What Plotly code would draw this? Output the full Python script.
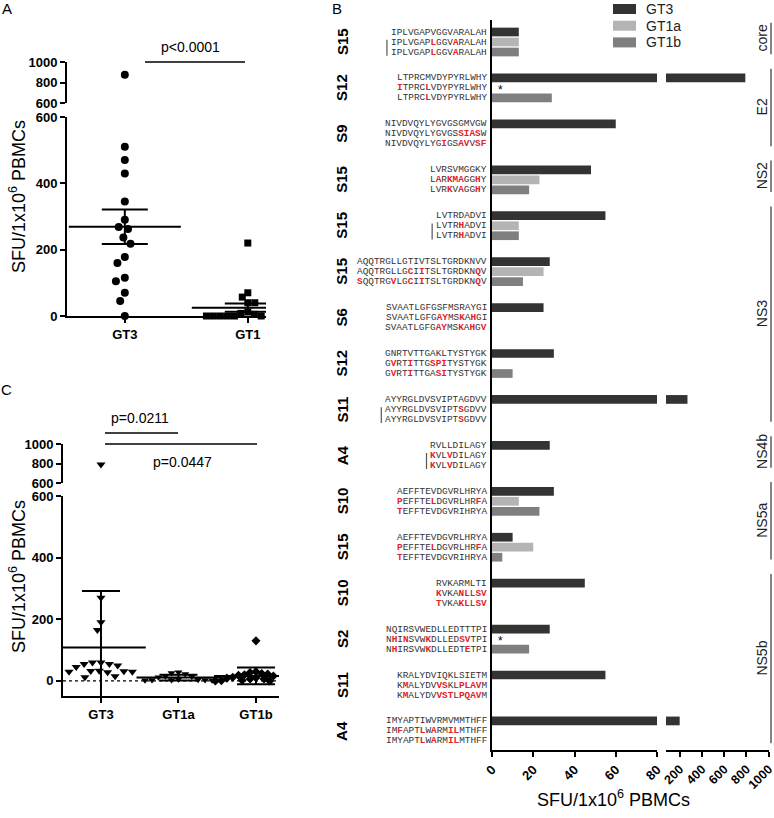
import math
import plotly.graph_objects as go

W, H = 774, 818
FONT = "Liberation Sans, Arial, sans-serif"
MONO = "Liberation Mono, Courier New, monospace"

# ---------------- data ----------------
# Panel A
a_cats = ["GT3", "GT1"]
a_gt3 = [875, 510, 470, 430, 345, 290, 268, 262, 237, 218, 178, 160, 115, 105, 70, 45, 0]
a_gt1 = [220, 70, 57, 40, 40, 12, 8, 5, 0, 0, 0, 0, 0, 0, 0, 0, 0, 0]

# Panel C
c_cats = ["GT3", "GT1a", "GT1b"]
c_gt3 = [790, 270, 190, 165, 60, 55, 50, 45, 55, 60, 30, 32, 28, 30, 33, 31, 12, 15]
c_gt1a = [28, 26, 22, 15, 14, 12, 5, 4, 3, 3, 2, 2, 3]
c_gt1b = [130, 30, 27, 24, 20, 16, 12, 9, 6, 4, 2, 1, 0, 0, 0, 1, 3, 6, 10, 14, 18, 22]

# Panel B
b_labels = ["S15", "S12", "S9", "S15", "S15", "S15", "S6", "S12", "S11", "A4",
            "S10", "S15", "S10", "S2", "S11", "A4"]
b_gt3 = [13, 790, 60, 48, 55, 28, 25, 30, 270, 28, 30, 10, 45, 28, 55, 200]
b_gt1a = [13, 0, 0, 23, 13, 25, 0, 0, 0, 0, 13, 20, 0, 0, 0, 0]
b_gt1b = [13, 29, 0, 18, 13, 15, 0, 10, 0, 0, 23, 5, 0, 18, 0, 0]
b_star_groups = [1, 13]
b_same_groups = [0, 4, 8, 9]
b_seqs = [
    ["IPLVGAPVGGVARALAH", "IPLVGAP[L]GGV[A]RALAH", "IPLVGAP[L]GGV[A]RALAH"],
    ["LTPRCMVDYPYRLWHY", "[I]TPRC[L]VDYPYRLWHY", "LTPRC[L]VDYPYRLWHY"],
    ["NIVDVQYLYGVGSGMVGW", "NIVDVQYLYGVGS[SIAS]W", "NIVDVQYLYG[I]GS[AV]V[SF]"],
    ["LVRSVMGGKY", "L[A]R[KMA]GG[H]Y", "LVR[K]V[A]GG[H]Y"],
    ["LVTRDADVI", "LVTR[H]ADVI", "LVTR[H]ADVI"],
    ["AQQTRGLLGTIVTSLTGRDKNVV", "AQQTRGLLG[C]I[I]TSLTGRDKN[Q]V", "[S]QQTRG[V]LG[C]I[I]TSLTGRDKN[Q]V"],
    ["SVAATLGFGSFMSRAYGI", "SVAATLGFG[AY]MS[K]A[H]GI", "SVAATLGFG[AY]MS[K]A[H]G[V]"],
    ["GNRTVTTGAKLTYSTYGK", "G[V]RT[I]TTG[SPI]TYSTYGK", "G[V]RT[I]TTGA[SI]TYSTYGK"],
    ["AYYRGLDVSVIPTAGDVV", "AYYRGLDVSVIPT[S]GDVV", "AYYRGLDVSVIPT[S]GDVV"],
    ["RVLLDILAGY", "[K]VL[V]DILAGY", "[K]VL[V]DILAGY"],
    ["AEFFTEVDGVRLHRYA", "[P]EFFTE[L]DGVRLHR[F]A", "[T]EFFTEVDGVRIHRYA"],
    ["AEFFTEVDGVRLHRYA", "[P]EFFTE[L]DGVRLHR[F]A", "[T]EFFTEVDGVRIHRYA"],
    ["RVKARMLTI", "[K]VKA[NL]L[SV]", "[T]VKA[KL]L[SV]"],
    ["NQIRSVWEDLLEDTTTPI", "N[H]I[N]SVW[K]DLLED[SV]TPI", "N[H]IRSVW[K]DLLEDT[E]TPI"],
    ["KRALYDVIQKLSIETM", "K[M]ALYDV[VS]KL[PLAV]M", "K[M]ALYDV[VST]L[PQAV]M"],
    ["IMYAPTIWVRMVMMTHFF", "IM[F]APT[L]W[A]RM[IL]MTHFF", "IMYAPT[L]W[A]RM[IL]MTHFF"],
]
b_regions = [("core", 0, 0), ("E2", 1, 2), ("NS2", 3, 3), ("NS3", 4, 8),
             ("NS4b", 9, 9), ("NS5a", 10, 11), ("NS5b", 12, 15)]
legend_names = ["GT3", "GT1a", "GT1b"]
bar_colors = ["#333333", "#b4b4b4", "#7f7f7f"]

# ---------------- layout constants (pixels) ----------------
def fx(p): return p / W
def fy(p): return 1 - p / H
def dx(l, r): return [l / W, r / W]
def dy(t, b): return [1 - b / H, 1 - t / H]

A_X, A_XR = (67, 266), [-0.47, 1.148]
A_LOW, A_LOWR = (117, 316), [0, 600]
A_UP, A_UPR = (62, 103), [600, 1000]
C_X, C_XR = (63, 279), [-0.49, 2.297]
C_LOW, C_LOWR = (496, 696), [-49, 600]
C_UP, C_UPR = (444, 483), [600, 1000]
B_Y = (20, 750)
ROW = 0.2177
BARW = 0.19
B_YR = [15.415, -0.479]


def vmap_factory(low, lowr, up, upr):
    def f(v):
        if v <= lowr[1]:
            return low[1] - (v - lowr[0]) / (lowr[1] - lowr[0]) * (low[1] - low[0])
        return up[1] - (v - upr[0]) / (upr[1] - upr[0]) * (up[1] - up[0])
    return f


def swarm(vals, vmap, d, ppux):
    order = sorted(range(len(vals)), key=lambda i: -vals[i])
    placed = []
    offs = [0.0] * len(vals)
    for i in order:
        y = vmap(vals[i])
        forb = []
        for xj, yj in placed:
            ddy = abs(y - yj)
            if ddy < d:
                h = math.sqrt(d * d - ddy * ddy)
                forb.append((xj - h, xj + h))
        cands = [0.0] + [a for a, b in forb] + [b for a, b in forb]
        cands.sort(key=lambda c: (abs(c), c))
        x = 0.0
        for c in cands:
            if all(not (a + 1e-6 < c < b - 1e-6) for a, b in forb):
                x = c
                break
        placed.append((x, y))
        offs[i] = x / ppux
    return offs


fig = go.Figure()


def add_group(vals, ci, xa, ylow, yup, split, symbol, size, d, ppux, vmap,
              use_sem, mw, cw):
    offs = swarm(vals, vmap, d, ppux)
    lo = [(ci + o, v) for o, v in zip(offs, vals) if v <= split]
    hi = [(ci + o, v) for o, v in zip(offs, vals) if v > split]
    for pts, ya in ((lo, ylow), (hi, yup)):
        if pts:
            fig.add_trace(go.Scatter(
                x=[p[0] for p in pts], y=[p[1] for p in pts], mode="markers",
                xaxis=xa, yaxis=ya, cliponaxis=False, showlegend=False,
                hoverinfo="skip",
                marker=dict(symbol=symbol, size=size, color="black",
                            line=dict(width=0))))
    n = len(vals)
    mean = sum(vals) / n
    sd = math.sqrt(sum((v - mean) ** 2 for v in vals) / (n - 1))
    err = sd / math.sqrt(n) if use_sem else sd
    fig.add_trace(go.Scatter(
        x=[ci], y=[mean], mode="markers", xaxis=xa, yaxis=ylow,
        showlegend=False, hoverinfo="skip",
        marker=dict(symbol="line-ew", size=mw, color="black",
                    line=dict(width=2, color="black")),
        error_y=dict(type="data", array=[err], visible=True, color="black",
                     thickness=2, width=cw)))


# Panel A
va = vmap_factory(A_LOW, A_LOWR, A_UP, A_UPR)
ppa = (A_X[1] - A_X[0]) / (A_XR[1] - A_XR[0])
add_group(a_gt3, 0, "x", "y", "y2", 600, "circle", 8, 9.5, ppa, va, True, 80, 23)
add_group(a_gt1, 1, "x", "y", "y2", 600, "square", 7, 7, ppa, va, True, 80, 23)

# Panel C
vc = vmap_factory(C_LOW, C_LOWR, C_UP, C_UPR)
ppc = (C_X[1] - C_X[0]) / (C_XR[1] - C_XR[0])
add_group(c_gt3, 0, "x2", "y3", "y4", 600, "triangle-down", 8, 8.5, ppc, vc, False, 64, 19)
add_group(c_gt1a, 1, "x2", "y3", "y4", 600, "triangle-down", 7, 7, ppc, vc, False, 60, 19)
add_group(c_gt1b, 2, "x2", "y3", "y4", 600, "diamond", 7, 6, ppc, vc, False, 60, 19)

# Panel B bars
for k, (name, vals, col) in enumerate(zip(legend_names, [b_gt3, b_gt1a, b_gt1b], bar_colors)):
    ys = [g + (k - 1) * ROW for g in range(len(vals))]
    fig.add_trace(go.Bar(orientation="h", x=[min(v, 80) for v in vals], y=ys,
                         width=BARW, xaxis="x3", yaxis="y5", showlegend=False,
                         marker=dict(color=col, line=dict(width=0)), hoverinfo="skip"))
    big = [(v, y) for v, y in zip(vals, ys) if v > 80]
    if big:
        fig.add_trace(go.Bar(orientation="h", x=[b[0] for b in big], y=[b[1] for b in big],
                             width=BARW, xaxis="x4", yaxis="y5", showlegend=False,
                             marker=dict(color=col, line=dict(width=0)), hoverinfo="skip"))

ann = []
shapes = []


def txt(x, y, text, size, xref="paper", yref="paper", xanchor="center",
        yanchor="middle", angle=0, family=FONT, color="black", weight="normal"):
    ann.append(dict(x=x, y=y, xref=xref, yref=yref, text=text, showarrow=False,
                    xanchor=xanchor, yanchor=yanchor, textangle=angle,
                    font=dict(family=family, size=size, color=color, weight=weight)))


def line(x0, y0, x1, y1, width=1.5, color="black", yref="paper", xref="paper", dash="solid"):
    shapes.append(dict(type="line", x0=x0, y0=y0, x1=x1, y1=y1, xref=xref, yref=yref,
                       line=dict(color=color, width=width, dash=dash)))


RED = "#e5202a"


def markup(s):
    out = ""
    for ch in s:
        if ch == "[":
            out += "<b><span style='color:%s'>" % RED
        elif ch == "]":
            out += "</span></b>"
        else:
            out += ch
    return out


CHW = 5.65
for g, rows in enumerate(b_seqs):
    for k, s in enumerate(rows):
        txt(fx(489), g + (k - 1) * ROW, markup(s), 9.4, yref="y5", xanchor="right",
            family=MONO, color="#333333")
    txt(fx(342), g, b_labels[g], 15, yref="y5", angle=-90, weight="bold")

for g in b_same_groups:
    n = len(b_seqs[g][1].replace("[", "").replace("]", ""))
    xp = fx(489 - n * CHW - 6)
    line(xp, g - 0.05, xp, g + ROW + 0.08, width=1.2, color="#555555", yref="y5")

for g in b_star_groups:
    txt(4, g + 0.04, "*", 12, xref="x3", yref="y5")

for name, g0, g1 in b_regions:
    y0 = g0 - ROW - 0.2
    y1 = g1 + ROW + 0.05
    line(fx(771), y0, fx(771), y1, width=1.2, color="#333333", yref="y5")
    txt(fx(762), (y0 + y1) / 2, name, 14, yref="y5", angle=-90, color="#222222")

# manual legend
for i, (name, col) in enumerate(zip(legend_names, bar_colors)):
    yc = 9 + i * 16.7
    shapes.append(dict(type="rect", xref="paper", yref="paper", x0=fx(613), x1=fx(636),
                       y0=fy(yc + 5), y1=fy(yc - 5), fillcolor=col, line=dict(width=0)))
    txt(fx(644), fy(yc), name, 14, xanchor="left", color="#222222")

# titles and letters
title = "SFU/1x10<sup>6</sup> PBMCs"
txt(fx(17), fy(197), title, 18, angle=-90)
txt(fx(17), fy(577), title, 18, angle=-90)
txt(fx(613), fy(798), title, 18)
txt(fx(7), fy(8), "A", 15)
txt(fx(337), fy(8), "B", 15)
txt(fx(7), fy(389), "C", 15)

# significance
txt(fx(190), fy(47), "p<0.0001", 14)
line(fx(145), fy(62), fx(245), fy(62))
txt(fx(140), fy(418), "p=0.0211", 14)
line(fx(105), fy(433), fx(178), fy(433))
line(fx(105), fy(444), fx(257), fy(444))
txt(fx(182), fy(462), "p=0.0447", 14)

# dotted zero line panel C
line(fx(C_X[0]), 0, fx(C_X[1]), 0, width=1.2, yref="y3", dash="dot")

tickfont = dict(family=FONT, size=13, color="black", weight="bold")
base = dict(showline=True, linewidth=2, linecolor="black", ticks="outside", ticklen=5,
            tickwidth=2, tickcolor="black", showgrid=False, zeroline=False,
            tickfont=tickfont, fixedrange=True, automargin=False,
            ticklabeloverflow="allow")

fig.update_layout(
    width=W, height=H, margin=dict(l=0, r=0, t=0, b=0, pad=0, autoexpand=False),
    paper_bgcolor="white", plot_bgcolor="rgba(0,0,0,0)",
    barmode="overlay", showlegend=False,
    font=dict(family=FONT, color="black"),
    xaxis=dict(base, domain=dx(*A_X), range=A_XR, anchor="y", tickmode="array",
               tickvals=list(range(len(a_cats))), ticktext=a_cats),
    yaxis=dict(base, domain=dy(*A_LOW), range=A_LOWR, anchor="x", tickvals=[0, 200, 400, 600]),
    yaxis2=dict(base, domain=dy(*A_UP), range=A_UPR, anchor="x", tickvals=[600, 800, 1000]),
    xaxis2=dict(base, domain=dx(*C_X), range=C_XR, anchor="y3", tickmode="array",
                tickvals=list(range(len(c_cats))), ticktext=c_cats),
    yaxis3=dict(base, domain=dy(*C_LOW), range=C_LOWR, anchor="x2", tickvals=[0, 200, 400, 600]),
    yaxis4=dict(base, domain=dy(*C_UP), range=C_UPR, anchor="x2", tickvals=[600, 800, 1000]),
    xaxis3=dict(base, domain=dx(492, 657), range=[0, 80], anchor="y5",
                tickvals=[0, 20, 40, 60, 80], tickangle=-45),
    xaxis4=dict(base, domain=dx(666, 769), range=[77, 1003], anchor="y5",
                tickvals=[200, 400, 600, 800, 1000], tickangle=-45,
                tickfont=dict(family=FONT, size=12.5, color="black", weight="bold")),
    yaxis5=dict(showline=True, linewidth=2, linecolor="black", ticks="", showticklabels=False,
                showgrid=False, zeroline=False, domain=dy(*B_Y), range=B_YR, anchor="x3",
                fixedrange=True, automargin=False),
    annotations=ann, shapes=shapes,
)

fig.write_html("out.html", config={"displayModeBar": False},
               post_script="document.body.style.margin='0px';document.body.style.overflow='hidden';")
